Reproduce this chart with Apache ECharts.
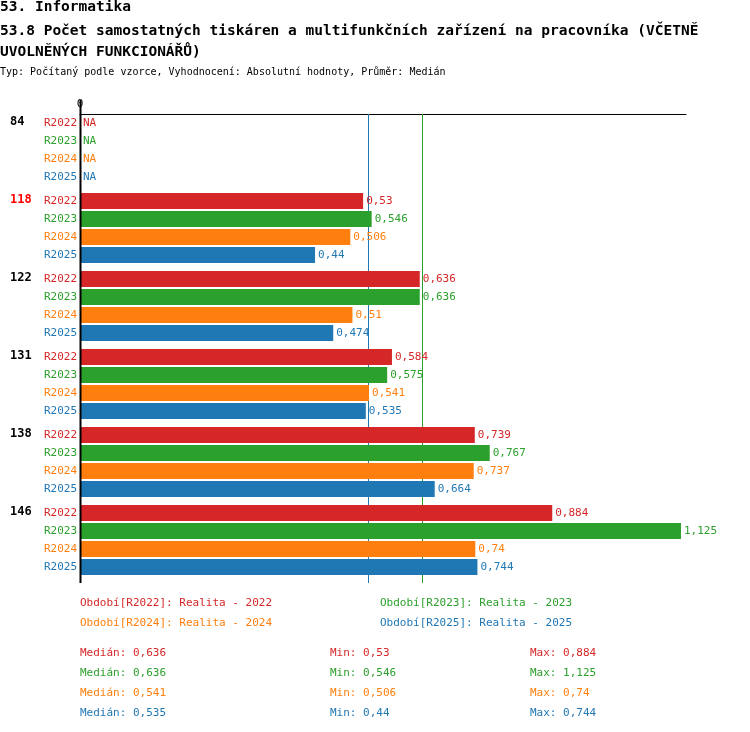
<!DOCTYPE html>
<html><head><meta charset="utf-8">
<script src="https://cdn.jsdelivr.net/npm/echarts@6/dist/echarts.min.js"></script>
<style>body{margin:0}#main{width:750px;height:732px}</style>
</head><body><div id="main"></div>
<script>
// data
var groups = ['84', '118', '122', '131', '138', '146'];
var years = ['R2022', 'R2023', 'R2024', 'R2025'];
var values = [
  [null, null, null, null],
  [0.53, 0.546, 0.506, 0.44],
  [0.636, 0.636, 0.51, 0.474],
  [0.584, 0.575, 0.541, 0.535],
  [0.739, 0.767, 0.737, 0.664],
  [0.884, 1.125, 0.74, 0.744]
];
var medians = [0.636, 0.636, 0.541, 0.535];
var mins = [0.53, 0.546, 0.506, 0.44];
var maxs = [0.884, 1.125, 0.74, 0.744];
var legendNames = ['Období[R2022]: Realita - 2022', 'Období[R2023]: Realita - 2023',
  'Období[R2024]: Realita - 2024', 'Období[R2025]: Realita - 2025'];
var colors = ['#d62728', '#2ca02c', '#ff7f0e', '#1f77b4'];

var font = 'DejaVu Sans Mono';
var XMAX = 1.1344;
var fmt = function (v) { return String(v).replace('.', ','); };

var grids = [], xAxes = [], yAxes = [], series = [], graphics = [];
groups.forEach(function (g, gi) {
  var top = 114 + gi * 78;
  grids.push({ left: 80, width: 606, top: top, height: 72 });
  xAxes.push({ gridIndex: gi, type: 'value', min: 0, max: XMAX, show: false });
  yAxes.push({
    gridIndex: gi, type: 'category', data: years, inverse: true,
    axisLine: { show: false }, axisTick: { show: false },
    axisLabel: { fontFamily: font, fontSize: 11, margin: 3, color: function (v, i) { return colors[i]; } }
  });
  series.push({
    type: 'bar', xAxisIndex: gi, yAxisIndex: gi, barWidth: 16, z: 5,
    data: values[gi].map(function (v, i) {
      return {
        value: v == null ? 0 : v,
        itemStyle: { color: colors[i] },
        label: {
          show: true, position: 'right', distance: 3, color: colors[i], fontFamily: font, fontSize: 11,
          formatter: v == null ? 'NA' : fmt(v)
        }
      };
    })
  });
  graphics.push({
    type: 'text', left: 10, top: top + 2,
    style: { text: g, font: 'bold 12px ' + font, fill: gi === 1 ? '#ff0000' : '#000' }
  });
});

// overlay grid for axis lines and median lines
grids.push({ left: 80, width: 606, top: 114, height: 469 });
xAxes.push({
  gridIndex: 6, type: 'value', min: 0, max: XMAX, position: 'top',
  axisLine: { show: true, onZero: false, lineStyle: { color: '#000', width: 1 } }, axisTick: { show: false },
  splitLine: { show: false },
  axisLabel: { fontFamily: font, fontSize: 11, color: '#000', margin: 4, formatter: function (v) { return v === 0 ? '0' : ''; } },
  interval: 10
});
yAxes.push({ gridIndex: 6, type: 'value', min: 0, max: 1, show: false });
series.push({
  type: 'line', xAxisIndex: 6, yAxisIndex: 6, data: [], silent: true, z: 1,
  markLine: {
    symbol: 'none', silent: true, label: { show: false }, z: 1,
    data: medians.map(function (m, i) { return { xAxis: m, lineStyle: { color: colors[i], type: 'solid', width: 1 } }; })
  }
});
graphics.push({ type: 'line', shape: { x1: 80.5, y1: 100, x2: 80.5, y2: 583 }, style: { stroke: '#000', lineWidth: 2 }, z: 10 });

// legend and stats
var legPos = [[80, 598], [380, 598], [80, 618], [380, 618]];
legendNames.forEach(function (n, i) {
  graphics.push({ type: 'text', left: legPos[i][0], top: legPos[i][1], style: { text: n, font: '11px ' + font, fill: colors[i] } });
  var y = 648 + i * 20;
  graphics.push({ type: 'text', left: 80, top: y, style: { text: 'Medián: ' + fmt(medians[i]), font: '11px ' + font, fill: colors[i] } });
  graphics.push({ type: 'text', left: 330, top: y, style: { text: 'Min: ' + fmt(mins[i]), font: '11px ' + font, fill: colors[i] } });
  graphics.push({ type: 'text', left: 530, top: y, style: { text: 'Max: ' + fmt(maxs[i]), font: '11px ' + font, fill: colors[i] } });
});
graphics.push({ type: 'text', left: 0, top: 0, style: { text: '53. Informatika', font: 'bold 14.5px ' + font, fill: '#000' } });
graphics.push({ type: 'text', left: 0, top: 21, style: { text: '53.8 Počet samostatných tiskáren a multifunkčních zařízení na pracovníka (VČETNĚ\nUVOLNĚNÝCH FUNKCIONÁŘŮ)', font: 'bold 14.5px ' + font, fill: '#000', lineHeight: 21 } });
graphics.push({ type: 'text', left: 0, top: 67, style: { text: 'Typ: Počítaný podle vzorce, Vyhodnocení: Absolutní hodnoty, Průměr: Medián', font: '10px ' + font, fill: '#000' } });

var chart = echarts.init(document.getElementById('main'));
chart.setOption({
  animation: false,
  backgroundColor: '#fff',
  grid: grids, xAxis: xAxes, yAxis: yAxes, series: series, graphic: graphics
});
</script></body></html>
